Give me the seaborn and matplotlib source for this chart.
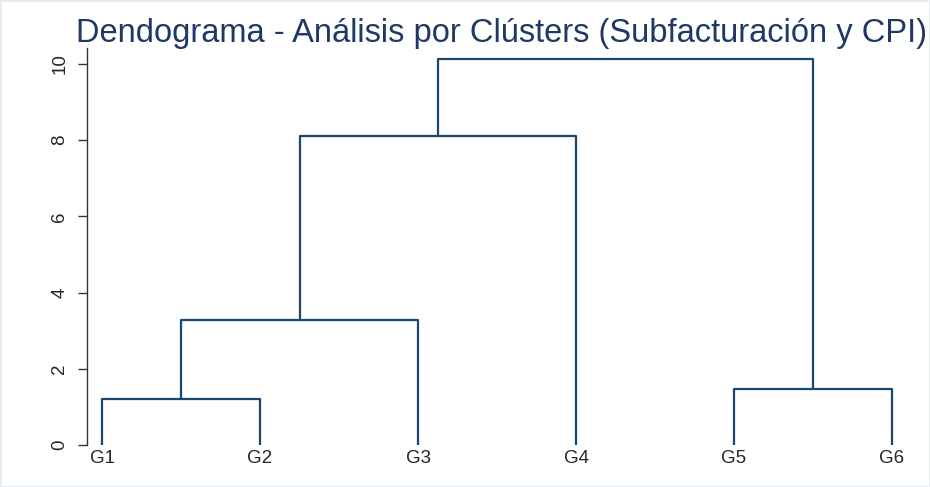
import pandas as pd
import numpy as np
import matplotlib.pyplot as plt
import seaborn as sns

# -----------------------------
# Data
# -----------------------------
leaves = ["G1", "G2", "G3", "G4", "G5", "G6"]
# merges: (left node, right node, height)
merge_left = ["G1", "C1", "C2", "G5", "C3"]
merge_right = ["G2", "G3", "G4", "G6", "C4"]
merge_height = [1.22, 3.28, 8.11, 1.47, 10.13]
merge_names = ["C1", "C2", "C3", "C4", "C5"]
y_ticks = [0, 2, 4, 6, 8, 10]

# -----------------------------
# Build link segments
# -----------------------------
pos = {name: i + 1 for i, name in enumerate(leaves)}
hgt = {name: 0.0 for name in leaves}
rows = []
for k, (a, b, h, n) in enumerate(zip(merge_left, merge_right, merge_height, merge_names)):
    xs = [pos[a], pos[a], pos[b], pos[b]]
    ys = [hgt[a], h, h, hgt[b]]
    for j, (x, y) in enumerate(zip(xs, ys)):
        rows.append({"link": k, "order": j, "x": x, "y": y})
    pos[n] = (pos[a] + pos[b]) / 2
    hgt[n] = h
df = pd.DataFrame(rows)

# -----------------------------
# Plot
# -----------------------------
sns.set_style("white")
plt.rcParams["font.family"] = ["Liberation Sans", "DejaVu Sans"]

fig = plt.figure(figsize=(9.3, 4.87), dpi=100)
fig.patch.set_edgecolor("#e6ecef")
fig.patch.set_linewidth(2)
ax = fig.add_axes([87 / 930, 42 / 487, 820 / 930, 397 / 487])

sns.lineplot(
    data=df, x="x", y="y", units="link", estimator=None, sort=False,
    color="#1a476f", linewidth=1.6, ax=ax
)

ax.set_xlim(1 - 15 / 158, 6 + 15 / 158)
ax.set_ylim(0, 10.42)
ax.set_xticks(range(1, len(leaves) + 1))
ax.set_xticklabels(leaves, fontsize=13.5)
ax.set_yticks(y_ticks)
ax.set_yticklabels([str(t) for t in y_ticks], fontsize=13.5, rotation=90, va="center")
ax.tick_params(axis="x", length=0, pad=3.5)
ax.tick_params(axis="y", length=6.5, width=1, color="#333333", pad=7, left=True)
ax.set_xlabel("")
ax.set_ylabel("")

for s in ["top", "right", "bottom"]:
    ax.spines[s].set_visible(False)
ax.spines["left"].set_color("#333333")
ax.spines["left"].set_linewidth(1)

fig.text(501 / 930, 1 - 33 / 487, "Dendograma - Análisis por Clústers (Subfacturación y CPI)",
         ha="center", va="center", fontsize=23.5, color="#1f3864")

plt.savefig("out.png", dpi=100)
